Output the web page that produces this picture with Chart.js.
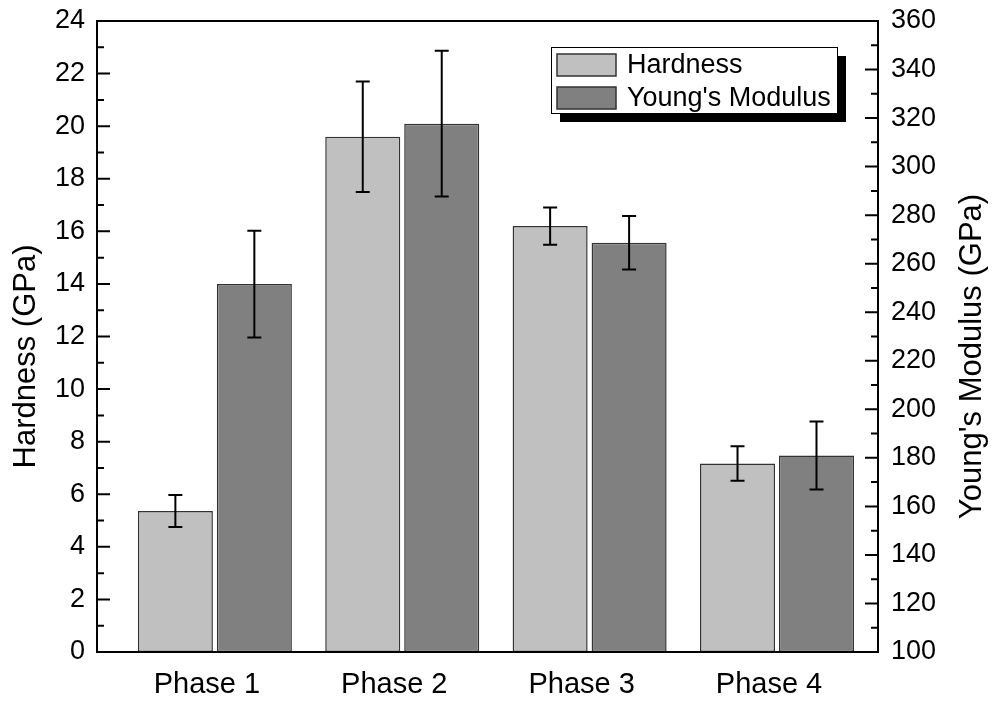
<!DOCTYPE html>
<html lang="en">
<head>
<meta charset="UTF-8">
<title>Hardness and Young's Modulus</title>
<script src="https://cdn.jsdelivr.net/npm/chart.js"></script>
<style>
    body { margin: 0; background: #ffffff; }
</style>
</head>
<body>
<canvas id="grafico" width="994" height="702"></canvas>
<script>
    const categories = ['Phase 1', 'Phase 2', 'Phase 3', 'Phase 4'];
    const hardness = [5.36, 19.6, 16.2, 7.17];
    const hardnessErr = [0.61, 2.1, 0.71, 0.66];
    const modulus = [251.6, 317.7, 268.6, 181.0];
    const modulusErr = [22, 30, 11, 14];
    const hardnessTicks = { min: 0, max: 24, step: 2 };
    const modulusTicks = { min: 100, max: 360, step: 20 };

    const fonte = "'Liberation Sans', Arial, sans-serif";

    // error bars drawn through the centre of every bar
    const barrasErro = {
        id: 'barrasErro',
        afterDatasetsDraw(chart) {
            const ctx = chart.ctx;
            ctx.save();
            ctx.strokeStyle = '#000000';
            ctx.lineWidth = 2;
            chart.data.datasets.forEach((ds, i) => {
                const meta = chart.getDatasetMeta(i);
                const escala = chart.scales[meta.yAxisID];
                meta.data.forEach((el, j) => {
                    const v = ds.data[j].y;
                    const e = ds.erros[j];
                    const y1 = escala.getPixelForValue(v + e);
                    const y2 = escala.getPixelForValue(v - e);
                    ctx.beginPath();
                    ctx.moveTo(el.x, y1); ctx.lineTo(el.x, y2);
                    ctx.moveTo(el.x - 7, y1); ctx.lineTo(el.x + 7, y1);
                    ctx.moveTo(el.x - 7, y2); ctx.lineTo(el.x + 7, y2);
                    ctx.stroke();
                });
            });
            ctx.restore();
        }
    };

    // frame, inward ticks, axis titles and the shadowed legend box
    const moldura = {
        id: 'moldura',
        afterDraw(chart) {
            const ctx = chart.ctx;
            const a = chart.chartArea;
            ctx.save();
            ctx.strokeStyle = '#000000';
            ctx.lineWidth = 2;
            ctx.strokeRect(a.left, a.top, a.right - a.left, a.bottom - a.top);

            function marcas(escala, lado) {
                const t = escala.ticks;
                ctx.beginPath();
                for (let k = 0; k < t.length; k++) {
                    const y = escala.getPixelForValue(t[k].value);
                    const x0 = lado === 'left' ? a.left : a.right;
                    const d = lado === 'left' ? 1 : -1;
                    ctx.moveTo(x0, y); ctx.lineTo(x0 + d * 13, y);
                    if (k < t.length - 1) {
                        const ym = escala.getPixelForValue((t[k].value + t[k + 1].value) / 2);
                        ctx.moveTo(x0, ym); ctx.lineTo(x0 + d * 7, ym);
                    }
                }
                ctx.stroke();
            }
            marcas(chart.scales.y, 'left');
            marcas(chart.scales.y1, 'right');

            // titulos dos eixos, lidos de baixo para cima
            function titulo(texto, x) {
                ctx.save();
                ctx.translate(x, (a.top + a.bottom) / 2 + 20);
                ctx.rotate(-Math.PI / 2);
                ctx.fillStyle = '#000000';
                ctx.font = '31px ' + fonte;
                ctx.textAlign = 'center';
                ctx.textBaseline = 'middle';
                ctx.fillText(texto, 0, 0);
                ctx.restore();
            }
            titulo('Hardness (GPa)', 26);
            titulo("Young's Modulus (GPa)", 972);

            // legenda
            const lx = 551, ly = 47, lw = 286, lh = 66;
            ctx.fillStyle = '#000000';
            ctx.fillRect(lx + 9, ly + 9, lw, lh);
            ctx.fillStyle = '#ffffff';
            ctx.fillRect(lx, ly, lw, lh);
            ctx.lineWidth = 1;
            ctx.strokeRect(lx + 0.5, ly + 0.5, lw, lh);
            ctx.font = '27px ' + fonte;
            ctx.textBaseline = 'middle';
            chart.data.datasets.forEach((ds, i) => {
                const sy = ly + 7 + i * 33;
                ctx.fillStyle = ds.backgroundColor;
                ctx.fillRect(lx + 6, sy, 59, 22);
                ctx.strokeStyle = '#333333';
                ctx.lineWidth = 1.5;
                ctx.strokeRect(lx + 6, sy, 59, 22);
                ctx.fillStyle = '#000000';
                ctx.fillText(ds.label, lx + 76, sy + 12);
            });
            ctx.restore();
        }
    };

    new Chart(document.getElementById('grafico'), {
        type: 'bar',
        data: {
            datasets: [
                {
                    label: 'Hardness',
                    data: hardness.map((v, i) => ({ x: i + 1, y: v })),
                    erros: hardnessErr,
                    yAxisID: 'y',
                    backgroundColor: '#c0c0c0',
                    borderColor: '#333333',
                    borderWidth: 1.5,
                    borderSkipped: false
                },
                {
                    label: "Young's Modulus",
                    data: modulus.map((v, i) => ({ x: i + 1, y: v })),
                    erros: modulusErr,
                    yAxisID: 'y1',
                    base: modulusTicks.min,
                    backgroundColor: '#808080',
                    borderColor: '#333333',
                    borderWidth: 1.5,
                    borderSkipped: false
                }
            ]
        },
        options: {
            responsive: false,
            animation: false,
            categoryPercentage: 0.843,
            barPercentage: 0.95,
            layout: { padding: { top: 21, left: 0, right: 0, bottom: 0 } },
            plugins: {
                legend: { display: false },
                tooltip: { enabled: false }
            },
            scales: {
                x: {
                    type: 'linear',
                    offset: false,
                    min: 0.371,
                    max: 4.539,
                    grid: { display: false },
                    border: { display: false },
                    afterBuildTicks: s => { s.ticks = categories.map((c, i) => ({ value: i + 1 })); },
                    afterFit: s => { s.height = 50; s.paddingLeft = 0; s.paddingRight = 0; },
                    ticks: {
                        callback: v => categories[v - 1] || '',
                        color: '#000000',
                        font: { family: fonte, size: 29 },
                        padding: 8,
                        labelOffset: -8,
                        maxRotation: 0
                    }
                },
                y: {
                    position: 'left',
                    min: hardnessTicks.min,
                    max: hardnessTicks.max,
                    grid: { display: false },
                    border: { display: false },
                    afterFit: s => { s.width = 97; s.paddingTop = 0; s.paddingBottom = 0; },
                    ticks: {
                        stepSize: hardnessTicks.step,
                        color: '#000000',
                        font: { family: fonte, size: 27 },
                        padding: 4
                    }
                },
                y1: {
                    position: 'right',
                    min: modulusTicks.min,
                    max: modulusTicks.max,
                    grid: { display: false },
                    border: { display: false },
                    afterFit: s => { s.width = 116; s.paddingTop = 0; s.paddingBottom = 0; },
                    ticks: {
                        stepSize: modulusTicks.step,
                        color: '#000000',
                        font: { family: fonte, size: 27 },
                        padding: 5
                    }
                }
            }
        },
        plugins: [barrasErro, moldura]
    });
</script>
</body>
</html>
